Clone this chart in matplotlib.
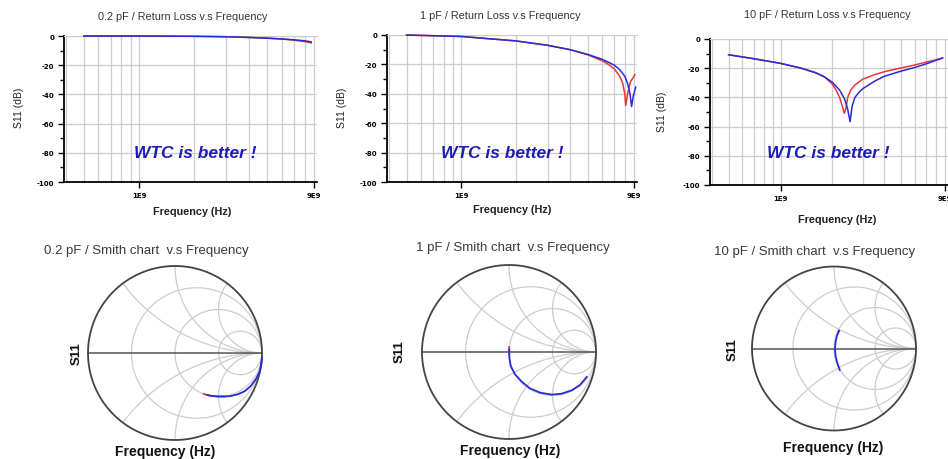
# Return loss and Smith chart comparison, 0.2 / 1 / 10 pF
import numpy as np
import matplotlib.pyplot as plt
from matplotlib.ticker import FixedLocator, NullFormatter

plt.rcParams['font.family'] = ['Liberation Sans', 'DejaVu Sans']

W, H = 948, 460

# ---- return loss data (frequency in GHz, S11 in dB)
f1_red = [0.5, 1, 2, 3, 4, 5, 6, 7, 8, 8.7]
s1_red = [0, 0, -0.2, -0.5, -1.0, -1.5, -2.1, -2.8, -3.8, -4.8]
f1_blue = [0.5, 1, 2, 3, 4, 5, 6, 7, 8, 8.7]
s1_blue = [0, 0, -0.2, -0.5, -1.0, -1.5, -2.0, -2.6, -3.3, -4.0]

f2_red = [0.5, 1, 2, 3, 4, 5, 6, 6.5, 7, 7.5, 7.8, 8.0, 8.1, 8.3, 8.6, 9.1]
s2_red = [0, -1, -4, -7, -10, -13.5, -17.5, -20, -23, -28, -33, -40, -48, -40, -32, -27]
f2_blue = [0.5, 1, 2, 3, 4, 5, 6, 6.5, 7, 7.5, 8.0, 8.3, 8.55, 8.73, 8.9, 9.2]
s2_blue = [0, -1, -4, -7, -10, -13.2, -16.5, -18.5, -20.5, -23.5, -28, -33, -40, -48.6, -42, -35.5]

f3_red = [0.5, 0.7, 1, 1.3, 1.6, 1.8, 2.0, 2.1, 2.2, 2.28, 2.34, 2.4, 2.45,
          2.55, 2.7, 3, 3.5, 4, 5, 6, 7, 8, 8.7]
s3_red = [-10.8, -13.5, -16.7, -19.8, -23, -26, -31, -35, -40, -46, -50.8, -47, -40,
          -35, -31.5, -27.5, -24.5, -22.4, -19.8, -17.8, -15.8, -14.2, -13]
f3_blue = [0.5, 0.7, 1, 1.3, 1.6, 1.8, 2.0, 2.2, 2.35, 2.45, 2.53, 2.6, 2.7,
           2.85, 3, 3.5, 4, 5, 6, 7, 8, 8.7]
s3_blue = [-10.8, -13.5, -16.7, -19.8, -23.2, -26, -29.7, -35, -41, -48, -56.7, -46, -40,
           -36.5, -34, -29, -25.5, -22, -19.5, -17, -14.5, -13]

# ---- Smith chart traces (reflection coefficient u + jv)
g4_red_u = [0.33, 0.37, 0.43, 0.5, 0.57]
g4_red_v = [-0.47, -0.483, -0.495, -0.5, -0.5]
g4_blue_u = [0.37, 0.43, 0.5, 0.57, 0.64, 0.72, 0.80, 0.87, 0.93, 0.97, 0.992, 1.0]
g4_blue_v = [-0.483, -0.495, -0.5, -0.5, -0.495, -0.475, -0.44, -0.38, -0.30, -0.22, -0.13, -0.05]

g5_red_u = [0.004, 0.004, 0.004]
g5_red_v = [0.057, 0.031, -0.02]
g5_blue_u = [0.004, 0.004, 0.019, 0.069, 0.146, 0.241, 0.356, 0.49, 0.605, 0.72, 0.816, 0.893]
g5_blue_v = [0.031, -0.065, -0.161, -0.257, -0.341, -0.418, -0.467, -0.49, -0.479, -0.441, -0.379, -0.287]

g6_red_u = [0.061, 0.05]
g6_red_v = [0.217, 0.19]
g6_blue_u = [0.061, 0.037, 0.02, 0.012, 0.02, 0.041, 0.07]
g6_blue_v = [0.217, 0.16, 0.086, -0.004, -0.098, -0.18, -0.262]

# Smith chart grid values
r_circles = [1 / 3, 1, 3]
x_arcs = [0.5, 1, 2]

caps = ['0.2 pF', '1 pF', '10 pF']
red_c = '#e23a3a'
blue_c = '#2a2ad6'
grid_c = '#cdcdcd'


def fx(x):
    return x / W


def fy(y):
    return 1 - y / H


fig = plt.figure(figsize=(W / 100, H / 100), dpi=100)

# ---------------- top row: return loss
boxes = [(64, 317, 37, 183), (387, 637, 36, 183), (710, 948, 40, 186)]
rl_data = [(f1_red, s1_red, f1_blue, s1_blue),
           (f2_red, s2_red, f2_blue, s2_blue),
           (f3_red, s3_red, f3_blue, s3_blue)]
title_pos = [(183, 17), (500, 16), (827, 15)]
ylab_pos = [(19, 108), (342, 108), (662, 112)]
xlab_pos = [(192, 212), (512, 210), (837, 220)]
wtc_pos = [(195, 154), (502, 154), (828, 154)]

for i in range(3):
    l, r, t, b = boxes[i]
    ax = fig.add_axes([fx(l), fy(b), fx(r - l), (b - t) / H])
    fr, sr, fb, sb = rl_data[i]
    ax.plot(np.array(fr) * 1e9, sr, color=red_c, lw=1.1, clip_on=False, zorder=5)
    ax.plot(np.array(fb) * 1e9, sb, color=blue_c, lw=1.1, clip_on=False, zorder=6)
    ax.set_xscale('log')
    ax.set_xlim(0.39e9, 9.35e9)
    ax.set_ylim(-100, 0)
    ax.xaxis.set_major_locator(FixedLocator([1e9, 9e9]))
    ax.xaxis.set_minor_locator(FixedLocator(
        [0.4e9, 0.5e9, 0.6e9, 0.7e9, 0.8e9, 0.9e9] + [k * 1e9 for k in range(2, 9)]))
    ax.xaxis.set_minor_formatter(NullFormatter())
    ax.set_xticklabels(['1E9', '9E9'])
    ax.set_yticks([0, -20, -40, -60, -80, -100])
    ax.set_yticklabels(['0', '-20', '-40', '-60', '-80', '-100'])
    ax.set_yticks([-10, -30, -50, -70, -90], minor=True)
    ax.tick_params(axis='both', which='major', labelsize=5, length=4, width=1, pad=3)
    ax.tick_params(axis='x', which='minor', length=0)
    ax.tick_params(axis='y', which='minor', length=3, width=1)
    for lab in ax.get_xticklabels() + ax.get_yticklabels():
        lab.set_fontweight('bold')
        lab.set_family('DejaVu Sans')
    ax.grid(True, which='both', axis='x', color=grid_c, lw=0.9)
    ax.grid(True, which='major', axis='y', color=grid_c, lw=0.9)
    ax.set_axisbelow(True)
    ax.spines['right'].set_visible(False)
    ax.spines['top'].set_color(grid_c)
    ax.spines['left'].set_linewidth(1.3)
    ax.spines['bottom'].set_linewidth(1.3)

    fig.text(fx(title_pos[i][0]), fy(title_pos[i][1]),
             caps[i] + ' / Return Loss v.s Frequency',
             ha='center', va='center', fontsize=7.8, color='#333333')
    fig.text(fx(ylab_pos[i][0]), fy(ylab_pos[i][1]), 'S11 (dB)', rotation=90,
             ha='center', va='center', fontsize=7.5, color='#222222')
    fig.text(fx(xlab_pos[i][0]), fy(xlab_pos[i][1]), 'Frequency (Hz)',
             ha='center', va='center', fontsize=7.8, fontweight='bold', color='#222222')
    fig.text(fx(wtc_pos[i][0]), fy(wtc_pos[i][1]), 'WTC is better !',
             ha='center', va='center', fontsize=12.5, fontweight='bold',
             style='italic', color='#1c1cb4')

# ---------------- bottom row: Smith charts
centers = [(175, 354, 87), (509, 353, 87), (834, 349.5, 82)]
smith_data = [(g4_red_u, g4_red_v, g4_blue_u, g4_blue_v),
              (g5_red_u, g5_red_v, g5_blue_u, g5_blue_v),
              (g6_red_u, g6_red_v, g6_blue_u, g6_blue_v)]
stitle_pos = [(146, 251), (513, 248), (815, 252)]
s11_pos = [(77, 354), (400, 352), (733, 350)]
sfreq_pos = [(165, 452), (510, 451), (833, 448)]

th = np.linspace(0, 2 * np.pi, 400)
for i in range(3):
    cx, cy, R = centers[i]
    half = 1.1 * R
    ax = fig.add_axes([fx(cx - half), fy(cy + half), 2 * half / W, 2 * half / H])
    ax.set_xlim(-1.1, 1.1)
    ax.set_ylim(-1.1, 1.1)
    ax.axis('off')

    # resistance circles
    for rr in r_circles:
        c = rr / (1 + rr)
        rad = 1 / (1 + rr)
        ax.plot(c + rad * np.cos(th), rad * np.sin(th), color=grid_c, lw=0.9)
    # reactance arcs, clipped to the unit circle
    for xx in x_arcs:
        for sgn in (1, -1):
            cxa, cya, rad = 1.0, sgn / xx, 1 / xx
            px = cxa + rad * np.cos(th)
            py = cya + rad * np.sin(th)
            inside = px ** 2 + py ** 2 <= 1.0001
            px = np.where(inside, px, np.nan)
            py = np.where(inside, py, np.nan)
            ax.plot(px, py, color=grid_c, lw=0.9)
    ax.plot([-1, 1], [0, 0], color='#555555', lw=1.1)
    ax.plot(np.cos(th), np.sin(th), color='#444444', lw=1.3)

    ru, rv, bu, bv = smith_data[i]
    ax.plot(ru, rv, color=red_c, lw=1.3)
    ax.plot(bu, bv, color=blue_c, lw=1.3)

    fig.text(fx(stitle_pos[i][0]), fy(stitle_pos[i][1]),
             caps[i] + ' / Smith chart  v.s Frequency',
             ha='center', va='center', fontsize=9.5, color='#3a3a3a')
    fig.text(fx(s11_pos[i][0]), fy(s11_pos[i][1]), 'S11', rotation=90,
             ha='center', va='center', fontsize=9.5, fontweight='bold', color='#111111')
    fig.text(fx(sfreq_pos[i][0]), fy(sfreq_pos[i][1]), 'Frequency (Hz)',
             ha='center', va='center', fontsize=10, fontweight='bold', color='#111111')

plt.savefig('out.png', dpi=100)
